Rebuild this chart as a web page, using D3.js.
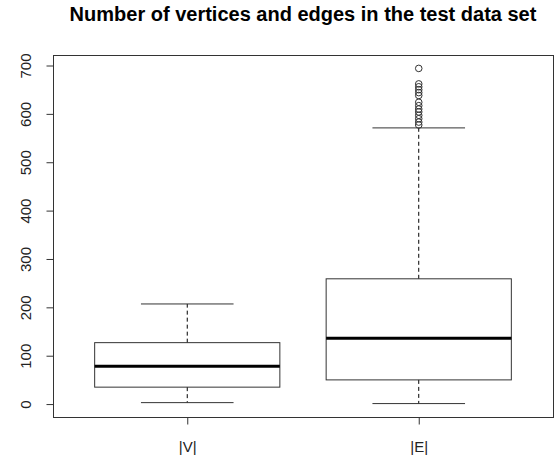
<!DOCTYPE html>
<html>
<head>
<meta charset="utf-8">
<script src="https://cdn.jsdelivr.net/npm/d3@7"></script>
<style>
  body { margin: 0; background: #fff; }
  text { font-family: "Liberation Sans", Arial, sans-serif; }
</style>
</head>
<body>
<div id="chart"></div>
<script>
// donnees
const categories = ["|V|", "|E|"];
const lowWhisker = [3, 1];
const q1 = [35, 50];
const medians = [78, 136];
const q3 = [127, 259];
const highWhisker = [207, 571];
const outliersV = [];
const outliersE = [694, 662, 656, 650, 644, 638, 624, 617, 610, 604, 597, 590, 583, 577];
const yTicks = [0, 100, 200, 300, 400, 500, 600, 700];

const W = 557, H = 460;
const margin = {top: 55, right: 4, bottom: 43, left: 53};
const width = W - margin.left - margin.right;
const height = H - margin.top - margin.bottom;

const svg = d3.select("#chart").append("svg")
    .attr("width", W)
    .attr("height", H);

// echelles facon R (4% de marge)
const allVals = lowWhisker.concat(highWhisker, outliersE, outliersV);
const lo = d3.min(allVals), hi = d3.max(allVals);
const pad = (hi - lo) * 0.04;
const y = d3.scaleLinear().domain([lo - pad, hi + pad]).range([margin.top + height, margin.top]);
const x = d3.scaleLinear().domain([0.42, 2.58]).range([margin.left, margin.left + width]);

const stroke = "#333";

// titre
svg.append("text")
    .attr("x", margin.left + width / 2)
    .attr("y", 21)
    .attr("text-anchor", "middle")
    .style("font-size", "20px")
    .style("font-weight", "bold")
    .text("Number of vertices and edges in the test data set");

// boites
const boxes = svg.append("g");
categories.forEach(function(c, i) {
    const cx = x(i + 1);
    const bw = x(1.4) - x(1);   // demi largeur boite
    const cw = x(1.2) - x(1);   // demi largeur moustache
    const g = boxes.append("g");
    // moustaches pointillees
    g.append("line").attr("x1", cx).attr("x2", cx)
        .attr("y1", y(q3[i])).attr("y2", y(highWhisker[i]))
        .attr("stroke", "#000").attr("stroke-dasharray", "4,3");
    g.append("line").attr("x1", cx).attr("x2", cx)
        .attr("y1", y(q1[i])).attr("y2", y(lowWhisker[i]))
        .attr("stroke", "#000").attr("stroke-dasharray", "4,3");
    // caps
    [highWhisker[i], lowWhisker[i]].forEach(function(v) {
        g.append("line").attr("x1", cx - cw).attr("x2", cx + cw)
            .attr("y1", y(v)).attr("y2", y(v))
            .attr("stroke", stroke);
    });
    g.append("rect")
        .attr("x", cx - bw).attr("width", 2 * bw)
        .attr("y", y(q3[i])).attr("height", y(q1[i]) - y(q3[i]))
        .attr("fill", "none").attr("stroke", stroke);
    g.append("line").attr("x1", cx - bw).attr("x2", cx + bw)
        .attr("y1", y(medians[i])).attr("y2", y(medians[i]))
        .attr("stroke", "#000").attr("stroke-width", 3);
});

// points aberrants
const outl = [outliersV, outliersE];
outl.forEach(function(arr, i) {
    boxes.selectAll(null).data(arr).enter().append("circle")
        .attr("cx", x(i + 1))
        .attr("cy", function(d) { return y(d); })
        .attr("r", 3.3)
        .attr("fill", "none")
        .attr("stroke", stroke);
});

// cadre
svg.append("rect")
    .attr("x", margin.left + 0.5).attr("y", margin.top + 0.5)
    .attr("width", width).attr("height", height)
    .attr("fill", "none").attr("stroke", stroke);

// axe y
const axeY = d3.axisLeft(y).tickValues(yTicks).tickSize(7);
const gy = svg.append("g")
    .attr("transform", "translate(" + (margin.left + 0.5) + ",0)")
    .call(axeY);
gy.select(".domain").remove();
gy.selectAll("line").attr("stroke", stroke);
gy.selectAll("text")
    .style("font-size", "15px")
    .attr("fill", "#222")
    .attr("x", 0).attr("y", 0).attr("dy", 0)
    .attr("transform", "translate(-23,0) rotate(-90)")
    .attr("text-anchor", "middle");

// axe x
const axeX = d3.axisBottom(x).tickValues([1, 2])
    .tickFormat(function(d) { return categories[d - 1]; })
    .tickSize(7).tickPadding(17);
const gx = svg.append("g")
    .attr("transform", "translate(0," + (margin.top + height + 0.5) + ")")
    .call(axeX);
gx.select(".domain").remove();
gx.selectAll("line").attr("stroke", stroke);
gx.selectAll("text").style("font-size", "15px").attr("fill", "#222");
</script>
</body>
</html>
